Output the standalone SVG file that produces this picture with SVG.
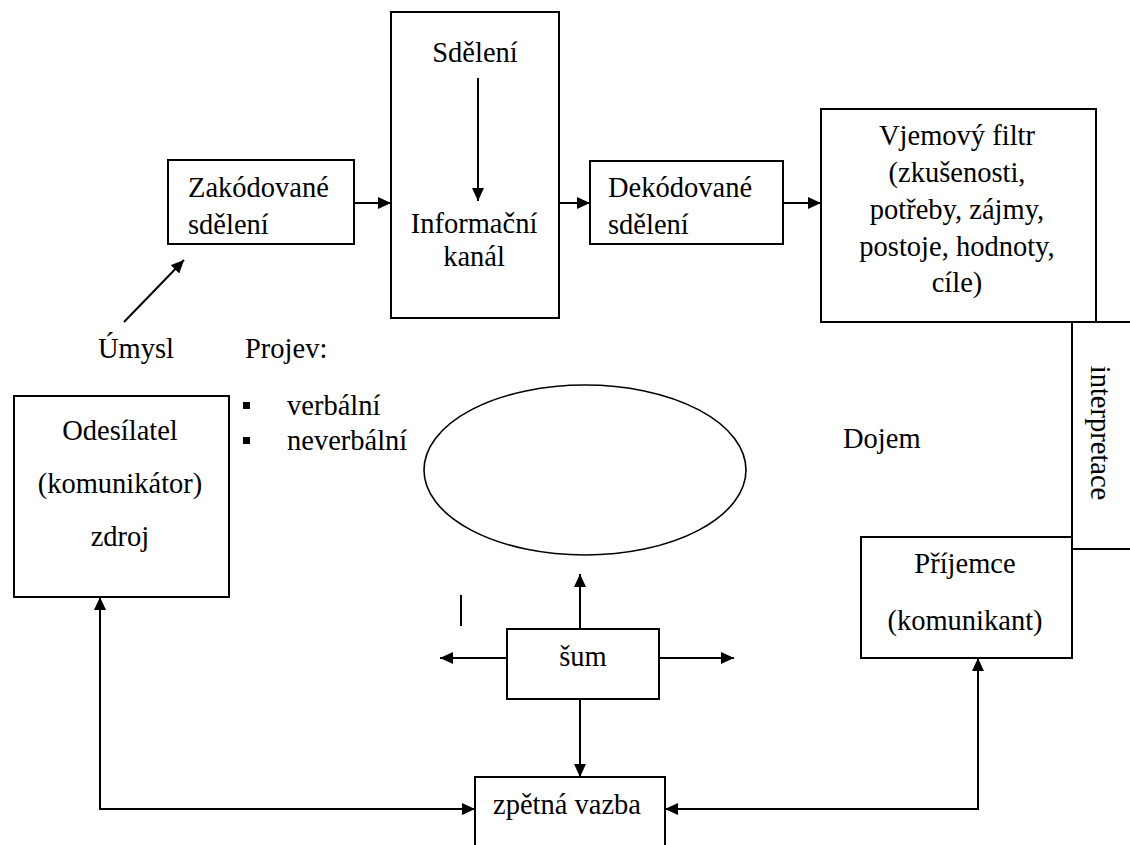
<svg xmlns="http://www.w3.org/2000/svg" width="1130" height="845" viewBox="0 0 1130 845" font-family="'Liberation Serif', 'DejaVu Serif', serif">
<style>
.box{fill:#fff;stroke:#000;stroke-width:2}
.ln{fill:none;stroke:#000;stroke-width:2}
text{font-family:'Liberation Serif','DejaVu Serif',serif;font-size:28.5px;fill:#000}
.c{text-anchor:middle}
</style>
<defs>
<marker id="ah" markerUnits="userSpaceOnUse" markerWidth="14" markerHeight="12" refX="13" refY="6" orient="auto-start-reverse">
<path d="M0,0 L13,6 L0,12 z" fill="#000"/>
</marker>
</defs>
<rect width="1130" height="845" fill="#fff"/>

<g id="zakodovane">
<rect class="box" x="168" y="160" width="186" height="84"/>
<text x="188" y="197">Zakódované</text>
<text x="188" y="234">sdělení</text>
</g>

<g id="kanal">
<rect class="box" x="391" y="12" width="168" height="306"/>
<text class="c" x="475" y="62">Sdělení</text>
<text class="c" x="474" y="233">Informační</text>
<text class="c" x="474" y="266">kanál</text>
</g>

<g id="dekodovane">
<rect class="box" x="590" y="161" width="193" height="83"/>
<text x="608" y="197">Dekódované</text>
<text x="608" y="234">sdělení</text>
</g>

<g id="filtr">
<rect class="box" x="821" y="109" width="275" height="213"/>
<text class="c" x="957" y="145">Vjemový filtr</text>
<text class="c" x="957" y="182">(zkušenosti,</text>
<text class="c" x="957" y="219">potřeby, zájmy,</text>
<text class="c" x="957" y="256">postoje, hodnoty,</text>
<text class="c" x="957" y="292">cíle)</text>
</g>

<g id="interpretace">
<rect class="box" x="1072" y="322" width="80" height="227"/>
<text class="c" transform="translate(1091,433) rotate(90)" x="0" y="0">interpretace</text>
</g>

<g id="umysl">
<text x="98" y="358">Úmysl</text>
</g>

<g id="projev">
<text x="245" y="358">Projev:</text>
<rect x="243" y="402" width="7" height="7" fill="#000"/>
<text x="287" y="415">verbální</text>
<rect x="243" y="437" width="7" height="7" fill="#000"/>
<text x="287" y="450">neverbální</text>
</g>

<g id="odesilatel">
<rect class="box" x="14" y="396" width="215" height="201"/>
<text class="c" x="120" y="440">Odesílatel</text>
<text class="c" x="120" y="493">(komunikátor)</text>
<text class="c" x="120" y="546">zdroj</text>
</g>

<g id="ellipse">
<ellipse cx="585" cy="470" rx="161" ry="85" fill="none" stroke="#000" stroke-width="1.6"/>
</g>

<g id="dojem">
<text x="843" y="448">Dojem</text>
</g>

<g id="prijemce">
<rect class="box" x="861" y="537" width="211" height="121"/>
<text class="c" x="965" y="573">Příjemce</text>
<text class="c" x="965" y="630">(komunikant)</text>
</g>

<g id="sum">
<rect class="box" x="507" y="629" width="152" height="70"/>
<text class="c" x="583" y="666">šum</text>
</g>

<g id="zpetna">
<rect class="box" x="475" y="777" width="190" height="80"/>
<text x="493" y="814">zpětná vazba</text>
</g>

<g id="connectors">
<line class="ln" x1="124" y1="322" x2="184" y2="260" marker-end="url(#ah)"/>
<line class="ln" x1="354" y1="203" x2="391" y2="203" marker-end="url(#ah)"/>
<line class="ln" x1="478" y1="78" x2="478" y2="201" marker-end="url(#ah)"/>
<line class="ln" x1="559" y1="203" x2="590" y2="203" marker-end="url(#ah)"/>
<line class="ln" x1="783" y1="203" x2="821" y2="203" marker-end="url(#ah)"/>
<line class="ln" x1="580" y1="629" x2="580" y2="574" marker-end="url(#ah)"/>
<line class="ln" x1="507" y1="658" x2="440" y2="658" marker-end="url(#ah)"/>
<line class="ln" x1="659" y1="658" x2="734" y2="658" marker-end="url(#ah)"/>
<line class="ln" x1="580" y1="699" x2="580" y2="777" marker-end="url(#ah)"/>
<line class="ln" x1="461" y1="595" x2="461" y2="626"/>
<polyline class="ln" points="475,809 100,809 100,597" marker-start="url(#ah)" marker-end="url(#ah)"/>
<polyline class="ln" points="665,809 978,809 978,658" marker-start="url(#ah)" marker-end="url(#ah)"/>
</g>
</svg>
